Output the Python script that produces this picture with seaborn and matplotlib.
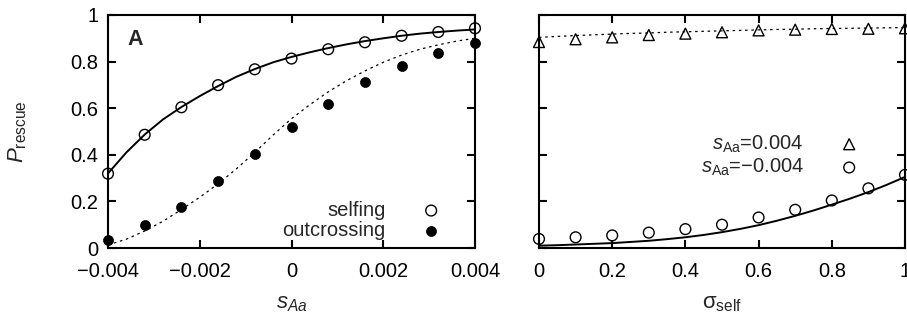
import numpy as np
import matplotlib
matplotlib.use("Agg")
import matplotlib.pyplot as plt
import seaborn as sns

# ---------------- data ----------------
s_points = [-0.004, -0.0032, -0.0024, -0.0016, -0.0008, 0.0, 0.0008, 0.0016, 0.0024, 0.0032, 0.004]
selfing_sim = [0.319, 0.486, 0.604, 0.699, 0.767, 0.813, 0.853, 0.883, 0.911, 0.927, 0.943]
outcross_sim = [0.036, 0.097, 0.177, 0.286, 0.404, 0.519, 0.620, 0.714, 0.783, 0.839, 0.879]

s_line = [-0.004, -0.0036, -0.0032, -0.0028, -0.0024, -0.002, -0.0016, -0.0012, -0.0008, -0.0004,
          0.0, 0.0004, 0.0008, 0.0012, 0.0016, 0.002, 0.0024, 0.0028, 0.0032, 0.0036, 0.004]
selfing_theory = [0.32, 0.41, 0.487, 0.552, 0.605, 0.652, 0.695, 0.735, 0.768, 0.797,
                  0.82, 0.84, 0.858, 0.874, 0.888, 0.90, 0.911, 0.92, 0.927, 0.933, 0.938]
outcross_theory = [0.013, 0.038, 0.073, 0.115, 0.165, 0.218, 0.275, 0.34, 0.41, 0.485,
                   0.555, 0.615, 0.67, 0.718, 0.76, 0.797, 0.828, 0.853, 0.872, 0.888, 0.90]

sigma = [0.0, 0.1, 0.2, 0.3, 0.4, 0.5, 0.6, 0.7, 0.8, 0.9, 1.0]
pos_sim = [0.884, 0.896, 0.904, 0.914, 0.920, 0.926, 0.934, 0.937, 0.940, 0.941, 0.943]
neg_sim = [0.039, 0.046, 0.054, 0.066, 0.081, 0.100, 0.131, 0.164, 0.204, 0.256, 0.314]

sigma_line = [0.0, 0.05, 0.1, 0.15, 0.2, 0.25, 0.3, 0.35, 0.4, 0.45, 0.5,
              0.55, 0.6, 0.65, 0.7, 0.75, 0.8, 0.85, 0.9, 0.95, 1.0]
pos_theory = [0.904, 0.908, 0.912, 0.915, 0.918, 0.921, 0.923, 0.926, 0.928, 0.930, 0.932,
              0.934, 0.936, 0.938, 0.939, 0.941, 0.942, 0.943, 0.944, 0.945, 0.946]
neg_theory = [0.010, 0.012, 0.015, 0.018, 0.021, 0.026, 0.031, 0.038, 0.046, 0.056, 0.068,
              0.082, 0.098, 0.117, 0.138, 0.161, 0.186, 0.212, 0.240, 0.271, 0.305]

left_xticks = [-0.004, -0.002, 0, 0.002, 0.004]
left_xticklabels = ["\u22120.004", "\u22120.002", "0", "0.002", "0.004"]
yticks = [0, 0.2, 0.4, 0.6, 0.8, 1]
yticklabels = ["0", "0.2", "0.4", "0.6", "0.8", "1"]
right_xticks = [0, 0.2, 0.4, 0.6, 0.8, 1]
right_xticklabels = ["0", "0.2", "0.4", "0.6", "0.8", "1"]

# ---------------- style ----------------
sns.set_theme(style="ticks")
plt.rcParams["font.family"] = ["Liberation Sans", "DejaVu Sans"]
plt.rcParams["mathtext.fontset"] = "custom"
plt.rcParams["mathtext.rm"] = "Liberation Sans"
plt.rcParams["mathtext.it"] = "Liberation Sans:italic"
plt.rcParams["mathtext.bf"] = "Liberation Sans:bold"
FS = 14.5
LFS = 16

fig = plt.figure(figsize=(9.07, 3.21), dpi=100)
axL = fig.add_axes([108 / 907, 73 / 321, 367 / 907, 233 / 321])
axR = fig.add_axes([539 / 907, 73 / 321, 366 / 907, 233 / 321])

for ax in (axL, axR):
    for sp in ax.spines.values():
        sp.set_linewidth(1.5)
        sp.set_color("black")
    ax.tick_params(direction="in", length=6, width=1.5, top=True, right=True,
                   labelsize=FS, colors="black")
    ax.tick_params(axis="x", pad=10)
    ax.tick_params(axis="y", pad=7)
    ax.set_ylim(0, 1)
    ax.set_yticks(yticks)

# ---------------- left panel ----------------
sns.lineplot(x=s_line, y=selfing_theory, ax=axL, color="black", lw=1.4, estimator=None)
sns.lineplot(x=s_line, y=outcross_theory, ax=axL, color="black", lw=0.9, estimator=None,
             linestyle=(0, (2, 3)))
sns.scatterplot(x=s_points, y=selfing_sim, ax=axL, marker="o", s=60,
                facecolor="none", edgecolor="black", linewidth=1.0, clip_on=False,
                label="selfing", zorder=5)
sns.scatterplot(x=s_points, y=outcross_sim, ax=axL, marker="o", s=52,
                color="black", edgecolor="black", linewidth=0.5, clip_on=False,
                label="outcrossing", zorder=5)
axL.set_xlim(-0.004, 0.004)
axL.set_xticks(left_xticks)
axL.set_xticklabels(left_xticklabels)
axL.set_yticklabels(yticklabels)
axL.set_xlabel(r"$s_{Aa}$", fontsize=LFS, labelpad=9)
axL.set_ylabel(r"$P_{\mathrm{rescue}}$", fontsize=LFS)
axL.yaxis.set_label_coords(-0.215, 0.5)
axL.text(0.054, 0.895, "A", transform=axL.transAxes, fontsize=FS + 1, fontweight="bold",
         ha="left", va="center")
axL.legend(loc="lower right", bbox_to_anchor=(0.908, 0.035), frameon=False,
           markerfirst=False, fontsize=FS, handlelength=1.0, handletextpad=1.75,
           borderpad=0, borderaxespad=0, labelspacing=0.05)

# ---------------- right panel ----------------
sns.lineplot(x=sigma_line, y=pos_theory, ax=axR, color="black", lw=0.9, estimator=None,
             linestyle=(0, (2, 3)))
sns.lineplot(x=sigma_line, y=neg_theory, ax=axR, color="black", lw=1.4, estimator=None)
sns.scatterplot(x=sigma, y=pos_sim, ax=axR, marker="^", s=62,
                facecolor="none", edgecolor="black", linewidth=1.0, clip_on=False,
                label="$s_{\\mathrm{Aa}}$=0.004", zorder=5)
sns.scatterplot(x=sigma, y=neg_sim, ax=axR, marker="o", s=60,
                facecolor="none", edgecolor="black", linewidth=1.0, clip_on=False,
                label="$s_{\\mathrm{Aa}}$=\u22120.004", zorder=5)
axR.set_xlim(0, 1)
axR.set_xticks(right_xticks)
axR.set_xticklabels(right_xticklabels)
axR.set_yticklabels([])
axR.set_xlabel("\u03c3$_{\\mathrm{self}}$", fontsize=LFS, labelpad=9)
axR.legend(loc="lower right", bbox_to_anchor=(0.875, 0.30), frameon=False,
           markerfirst=False, fontsize=FS, handlelength=1.0, handletextpad=1.75,
           borderpad=0, borderaxespad=0, labelspacing=0.1)

fig.savefig("out.png", dpi=100)
